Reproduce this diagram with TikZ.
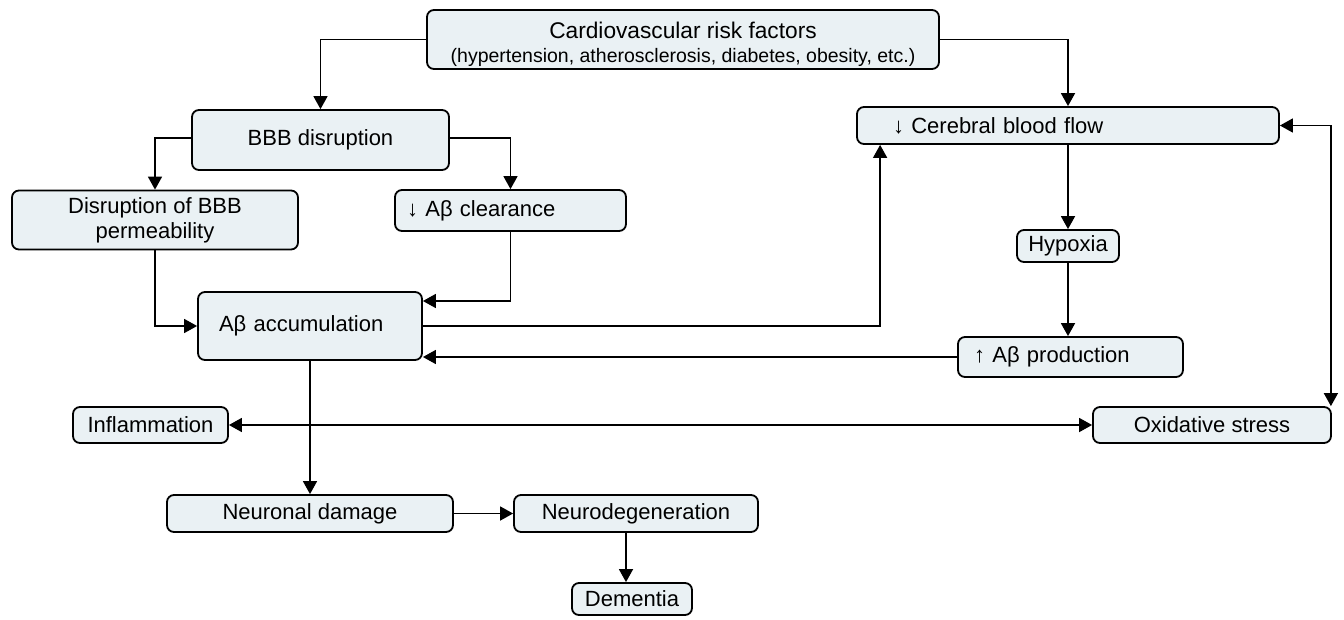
\documentclass[tikz,border=0pt]{standalone}
\usepackage{fontspec}
\setmainfont{Liberation Sans}
\usetikzlibrary{arrows.meta}
\definecolor{boxfill}{HTML}{EAF1F4}
\begin{document}
\begin{tikzpicture}[x=1pt,y=-1pt,
  box/.style={draw=black, line width=1.8pt, rounded corners=7pt, fill=boxfill,
    inner sep=0pt, font=\fontsize{22}{25}\selectfont},
  cbox/.style={box, align=center},
  lbox/.style={box, align=left},
  conn/.style={line width=1.6pt, -{Triangle[length=13pt,width=14pt]}},
  both/.style={line width=1.6pt, {Triangle[length=13pt,width=14pt]}-{Triangle[length=13pt,width=14pt]}}]
\useasboundingbox (0,0) rectangle (1344,619);
% nodes
\node[cbox, minimum width=512, minimum height=59] (cv) at (683,39.5)
  {{\fontsize{22.7}{24}\selectfont\rule{0pt}{26.5pt}Cardiovascular risk factors}\\[-1pt]{\fontsize{19.5}{24}\selectfont (hypertension, atherosclerosis, diabetes, obesity, etc.)}};
\node[cbox, minimum width=257, minimum height=60] (bbb) at (320.5,140) {BBB disruption};
\node[cbox, minimum width=286, minimum height=59] (dis) at (155,220) {Disruption of BBB\\permeability};
\node[lbox, minimum height=41, text width=207, inner xsep=12pt] (clr) at (510.5,210.5) {↓ Aβ clearance};
\node[lbox, minimum height=68, text width=182, inner xsep=21pt] (acc) at (310,326) {Aβ accumulation};
\node[lbox, minimum height=37, text width=350, inner xsep=36pt] (cbf) at (1068,125.5) {↓ Cerebral blood flow};
\node[cbox, minimum width=102, minimum height=32] (hyp) at (1068,246) {Hypoxia};
\node[lbox, minimum height=40, text width=193, inner xsep=16pt] (prod) at (1070.5,357) {↑ Aβ production};
\node[cbox, minimum width=155, minimum height=36] (inf) at (150.5,425) {Inflammation};
\node[cbox, minimum width=238, minimum height=36] (ox) at (1212,425) {Oxidative stress};
\node[cbox, minimum width=286, minimum height=37] (neu) at (310,513.5) {Neuronal damage};
\node[cbox, minimum width=244, minimum height=37] (ndg) at (636,513.5) {Neurodegeneration};
\node[cbox, minimum width=120, minimum height=32] (dem) at (632,599) {Dementia};
% connectors
\draw[conn] (cv.west) -| (bbb.north);
\draw[conn] (cv.east) -| (cbf.north);
\draw[conn] ([yshift=2pt]bbb.west) -| (dis.north);
\draw[conn] ([yshift=2pt]bbb.east) -| (clr.north);
\draw[conn] (dis.south) |- (acc.west);
\draw[conn] (clr.south) |- ([yshift=25pt]acc.east);
\draw[conn] (acc.east) -| ([xshift=24pt]cbf.south west);
\draw[conn] (cbf.south) -- (hyp.north);
\draw[conn] (hyp.south) -- (hyp.south |- prod.north);
\draw[conn] (prod.west) -- (acc.east |- prod.west);
\draw[conn] (acc.south) -- (neu.north);
\draw[both] (inf.east) -- (ox.west);
\draw[both] (cbf.east) -| ([xshift=-1pt]ox.north east);
\draw[conn] (neu.east) -- (ndg.west);
\draw[conn] ([xshift=-6pt]dem.north |- ndg.south) -- ([xshift=-6pt]dem.north);
\end{tikzpicture}
\end{document}
